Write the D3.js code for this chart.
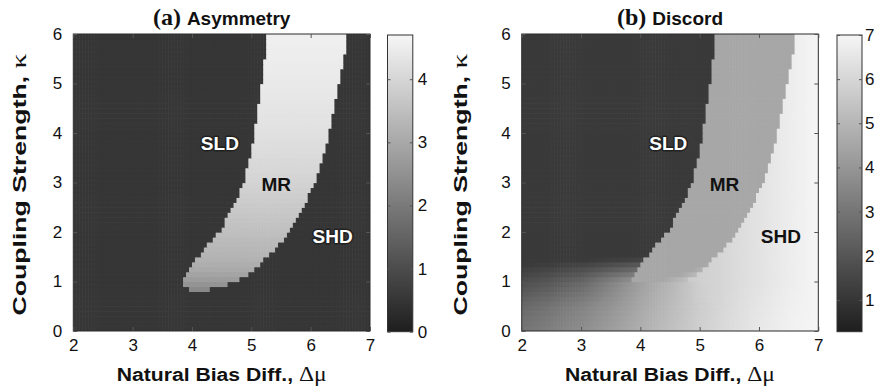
<!DOCTYPE html>
<html><head><meta charset="utf-8">
<script src="https://cdn.jsdelivr.net/npm/d3@7"></script>
<style>body{margin:0;background:#fff}svg{display:block}</style>
</head><body><svg id="c" width="881" height="390"></svg>
<script>
// ---------- data ----------
const xTicks = [2, 3, 4, 5, 6, 7];
const yTicks = [0, 1, 2, 3, 4, 5, 6];
const cbTicksA = [0, 1, 2, 3, 4];
const cbTicksB = [1, 2, 3, 4, 5, 6, 7];
const cbDomainA = [0, 4.7];
const cbDomainB = [0.28, 7];
// MR phase boundaries (Δμ) read at these kappa values
const bKappa  = [0.82, 0.95, 1.0,  1.25, 1.5,  1.75, 2.0,  2.5,  3.0,  3.5,  4.0,  4.5,  5.0,  5.5,  6.0];
const mrLeft  = [3.98, 3.83, 3.83, 3.96, 4.10, 4.27, 4.46, 4.69, 4.88, 4.97, 5.05, 5.11, 5.17, 5.23, 5.28];
const mrRight = [4.20, 4.62, 4.76, 5.06, 5.25, 5.46, 5.64, 5.88, 6.07, 6.21, 6.31, 6.40, 6.48, 6.56, 6.63];
// (a) asymmetry
const asymBg = 0.52;
const asymKappa = [0.82, 1.0, 1.25, 1.5, 2.0, 3.0, 4.0, 5.0, 6.0];
const asymMR    = [2.25, 2.70, 3.05, 3.25, 3.50, 3.95, 4.23, 4.42, 4.56];
// (b) discord
const discSLD = 1.15;
const discMR = 4.55;
const shdMu  = [4.5, 5.0, 5.5, 6.0, 6.5, 7.0];
const shdVal = [5.45, 5.80, 6.08, 6.40, 6.70, 6.98];
const lowMu    = [2, 2.5, 3, 3.5, 4, 4.5, 5, 5.5, 6, 6.5, 7];
const lowKappa = [0, 0.5, 1.0, 1.5];
const lowRows = [
  [3.00, 3.35, 3.75, 4.25, 4.80, 5.30, 5.80, 6.20, 6.55, 6.84, 6.98],
  [2.60, 2.95, 3.40, 3.95, 4.55, 5.15, 5.72, 6.12, 6.48, 6.78, 6.97],
  [1.80, 2.10, 2.55, 3.40, 4.30, 5.00, 5.80, 6.08, 6.40, 6.70, 6.98],
  [0.90, 0.95, 1.00, 1.05, 1.10, 2.50, 3.80, 5.00, 6.00, 6.60, 6.90]
];
const regionNames = ["SLD", "MR", "SHD"];
const regionMu = [4.47, 5.42, 6.37];
const regionKappa = [3.78, 2.96, 1.90];

// ---------- layout ----------
const svg = d3.select("#c");
const FS = "'Liberation Sans', Arial, Helvetica, sans-serif";
const SERIF = "'Liberation Serif', 'Times New Roman', serif";
const yTop = 34, yBot = 331;
const panels = [
  {x0: 73.3, x1: 370, cb: [387.5, 412.8], dom: cbDomainA, cbTicks: cbTicksA, cbPad: 5,
   tag: "(a)", title: "Asymmetry", labFill: ["#fff", "#111", "#fff"], labStroke: ["#222", "none", "#222"], ylx: 26},
  {x0: 521.7, x1: 818.3, cb: [837, 862], dom: cbDomainB, cbTicks: cbTicksB, cbPad: 3,
   tag: "(b)", title: "Discord", labFill: ["#fff", "#111", "#111"], labStroke: ["#222", "none", "none"], ylx: 467}
];

const dMu = 0.05, dK = 0.1;
const cols = d3.range(100).map(i => 2 + dMu / 2 + i * dMu);
const rows = d3.range(60).map(i => dK / 2 + i * dK);

const leftAt = d3.scaleLinear().domain(bKappa).range(mrLeft).clamp(true);
const rightAt = d3.scaleLinear().domain(bKappa).range(mrRight).clamp(true);
const asymAt = d3.scaleLinear().domain(asymKappa).range(asymMR).clamp(true);
const shdAt = d3.scaleLinear().domain(shdMu).range(shdVal).clamp(true);
const lowMuScales = lowRows.map(r => d3.scaleLinear().domain(lowMu).range(r).clamp(true));
function lowAt(k, mu) {
  return d3.scaleLinear().domain(lowKappa).range(lowMuScales.map(s => s(mu))).clamp(true)(k);
}
function inMR(k, mu) { return k >= bKappa[0] && mu >= leftAt(k) && mu < rightAt(k); }

function valueA(k, mu) { return inMR(k, mu) ? asymAt(k) : asymBg; }
function valueB(k, mu) {
  if (k < 1.0) return lowAt(k, mu);
  let v;
  if (mu < leftAt(k)) v = discSLD;
  else if (mu < rightAt(k)) v = discMR;
  else v = shdAt(mu);
  return k <= 1.5 ? Math.max(v, lowAt(k, mu)) : v;
}
const valueFns = [valueA, valueB];

panels.forEach((p, pi) => {
  const x = d3.scaleLinear().domain([2, 7]).range([p.x0, p.x1]);
  const y = d3.scaleLinear().domain([0, 6]).range([yBot, yTop]);
  const color = d3.scaleLinear().domain(p.dom).range(["#1e1e1e", "#f6f6f6"]).clamp(true);
  const g = svg.append("g");
  const clipId = "clip" + pi;
  svg.append("clipPath").attr("id", clipId).append("rect")
    .attr("x", p.x0).attr("y", yTop).attr("width", p.x1 - p.x0).attr("height", yBot - yTop);

  const cells = [];
  rows.forEach(k => cols.forEach(mu => cells.push({k, mu, v: valueFns[pi](k, mu)})));
  g.append("g").attr("clip-path", `url(#${clipId})`)
    .selectAll("rect").data(cells).join("rect")
    .attr("x", d => x(d.mu - dMu / 2))
    .attr("y", d => y(d.k + dK / 2))
    .attr("width", d => x(d.mu + dMu / 2) - x(d.mu - dMu / 2) + 0.6)
    .attr("height", d => y(d.k - dK / 2) - y(d.k + dK / 2) + 0.6)
    .attr("fill", d => color(d.v));

  g.append("rect").attr("x", p.x0).attr("y", yTop).attr("width", p.x1 - p.x0).attr("height", yBot - yTop)
    .attr("fill", "none").attr("stroke", "#2a2a2a").attr("stroke-width", 1);

  const ax = g.append("g").attr("transform", `translate(0,${yBot})`)
    .call(d3.axisBottom(x).tickValues(xTicks).tickFormat(d3.format("d")).tickSize(-4).tickPadding(8));
  const ay = g.append("g").attr("transform", `translate(${p.x0},0)`)
    .call(d3.axisLeft(y).tickValues(yTicks).tickFormat(d3.format("d")).tickSize(-4).tickPadding(11));
  g.append("g").attr("transform", `translate(0,${yTop})`)
    .call(d3.axisTop(x).tickValues(xTicks).tickFormat("").tickSize(-4));
  g.append("g").attr("transform", `translate(${p.x1},0)`)
    .call(d3.axisRight(y).tickValues(yTicks).tickFormat("").tickSize(-4));
  g.selectAll(".domain").remove();
  g.selectAll(".tick line").attr("stroke", "#555");
  [ax, ay].forEach(a => a.selectAll("text").attr("font-family", FS).attr("font-size", 17).attr("fill", "#111"));

  regionNames.forEach((nm, j) => {
    g.append("text").attr("x", x(regionMu[j])).attr("y", y(regionKappa[j]))
      .attr("text-anchor", "middle").attr("dominant-baseline", "central")
      .attr("font-family", FS).attr("font-weight", "bold").attr("font-size", 19)
      .attr("fill", p.labFill[j]).attr("stroke", p.labStroke[j]).attr("stroke-width", 3)
      .attr("paint-order", "stroke").attr("stroke-linejoin", "round")
      .text(nm);
  });

  const t = svg.append("text").attr("x", (p.x0 + p.x1) / 2).attr("y", 25).attr("text-anchor", "middle").attr("fill", "#111");
  t.append("tspan").attr("font-family", SERIF).attr("font-size", 24).attr("font-weight", "bold").text(p.tag + " ");
  t.append("tspan").attr("font-family", FS).attr("font-size", 19).attr("font-weight", "bold").text(p.title);

  const xl = svg.append("text").attr("x", (p.x0 + p.x1) / 2).attr("y", 381).attr("text-anchor", "middle")
    .attr("font-family", FS).attr("font-size", 18).attr("font-weight", "bold").attr("fill", "#111")
    .attr("textLength", 210).attr("lengthAdjust", "spacingAndGlyphs");
  xl.append("tspan").text("Natural Bias Diff., ");
  xl.append("tspan").attr("font-family", SERIF).attr("font-weight", "normal").attr("font-size", 20).text("Δμ");

  const yl = svg.append("text").attr("transform", `translate(${p.ylx},${(yTop + yBot) / 2 + 2}) rotate(-90)`)
    .attr("text-anchor", "middle")
    .attr("font-family", FS).attr("font-size", 18).attr("font-weight", "bold").attr("fill", "#111")
    .attr("textLength", 262).attr("lengthAdjust", "spacingAndGlyphs");
  yl.append("tspan").text("Coupling Strength, ");
  yl.append("tspan").attr("font-family", SERIF).attr("font-weight", "normal").attr("font-size", 20).text("κ");

  const cy = d3.scaleLinear().domain(p.dom).range([331.7, 35]);
  const gid = "grad" + pi;
  const grad = svg.append("defs").append("linearGradient").attr("id", gid)
    .attr("x1", 0).attr("y1", 1).attr("x2", 0).attr("y2", 0);
  d3.range(11).forEach(s => {
    const v = p.dom[0] + (p.dom[1] - p.dom[0]) * s / 10;
    grad.append("stop").attr("offset", s / 10).attr("stop-color", color(v));
  });
  const cbw = p.cb[1] - p.cb[0];
  svg.append("rect").attr("x", p.cb[0]).attr("y", 35).attr("width", cbw).attr("height", 331.7 - 35)
    .attr("fill", `url(#${gid})`).attr("stroke", "#333").attr("stroke-width", 1);
  const cbg = svg.append("g").attr("transform", `translate(${p.cb[1]},0)`)
    .call(d3.axisRight(cy).tickValues(p.cbTicks).tickFormat(d3.format("d")).tickSize(-3).tickPadding(p.cbPad));
  const cbl = svg.append("g").attr("transform", `translate(${p.cb[0]},0)`)
    .call(d3.axisLeft(cy).tickValues(p.cbTicks).tickFormat("").tickSize(-3));
  [cbg, cbl].forEach(a => { a.select(".domain").remove(); a.selectAll(".tick line").attr("stroke", "#555"); });
  cbg.selectAll("text").attr("font-family", FS).attr("font-size", 17).attr("fill", "#111");
});
</script></body></html>
